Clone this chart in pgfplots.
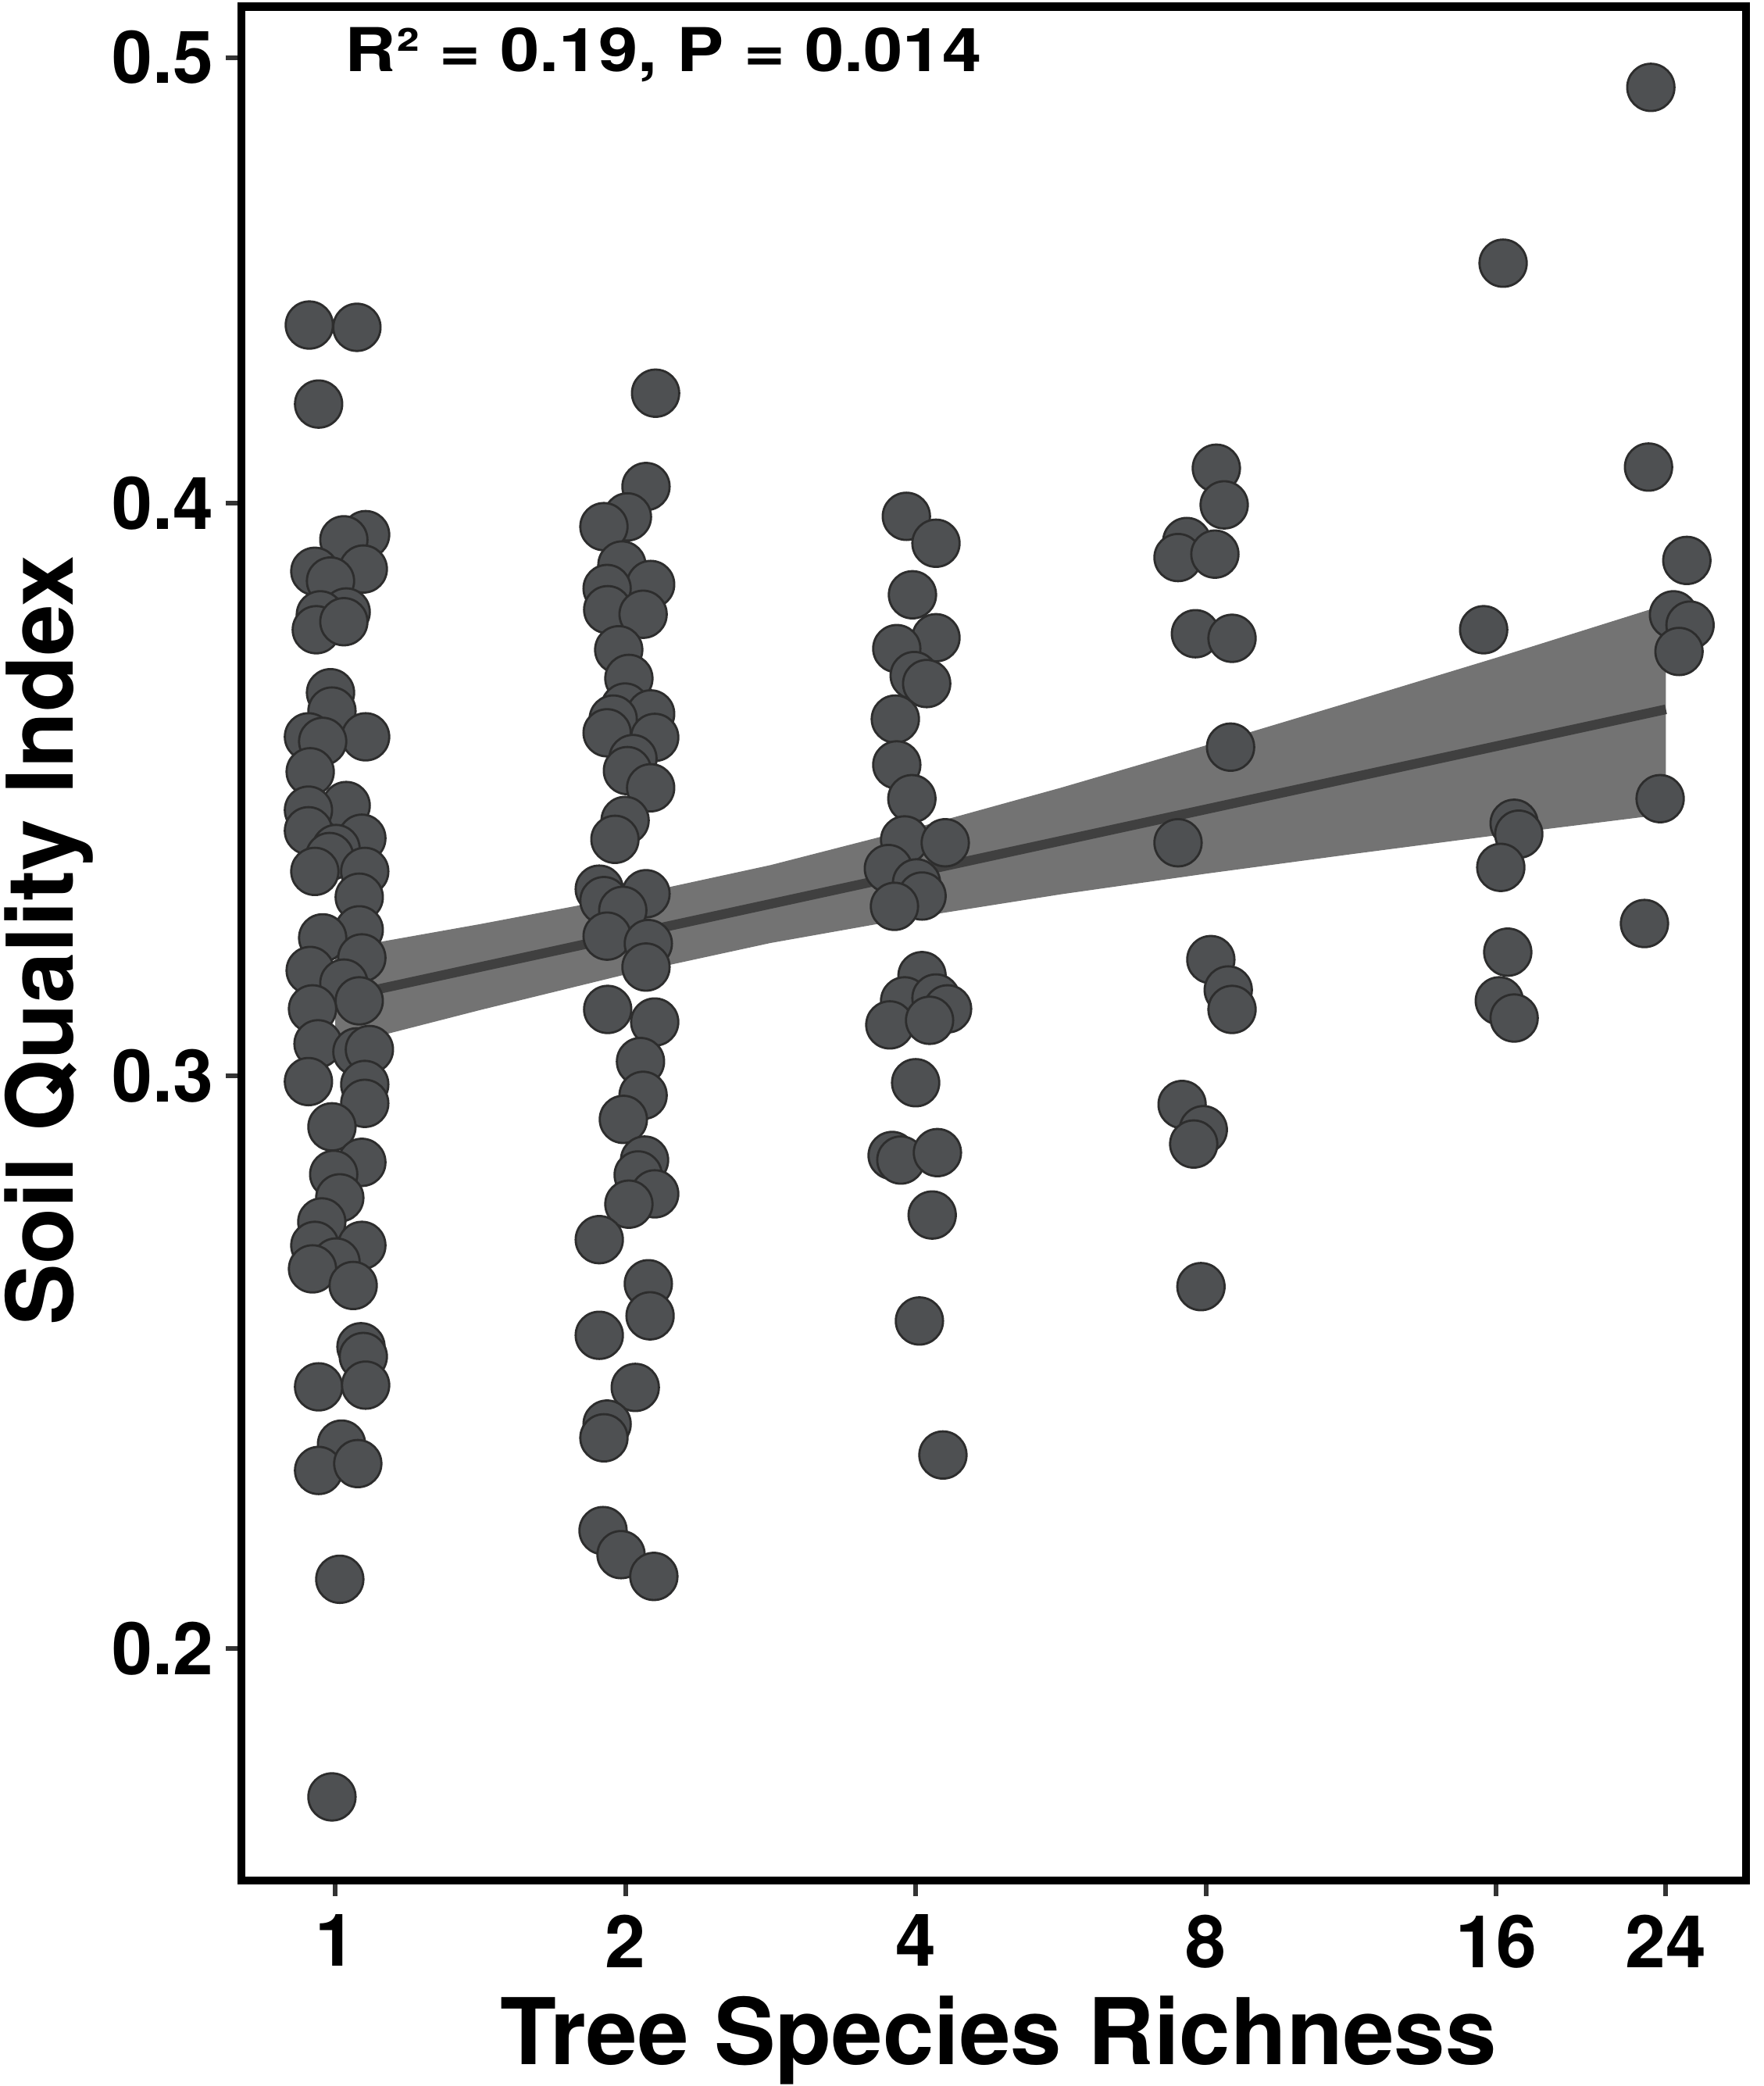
\documentclass[border=0pt]{standalone}
\usepackage{pgfplots}
\pgfplotsset{compat=1.18}
\usepackage{fontspec}
\setmainfont{TeX Gyre Heros}

\definecolor{ptfill}{RGB}{78,80,82}
\definecolor{ptedge}{RGB}{45,45,45}
\definecolor{bandfill}{RGB}{90,90,90}
\definecolor{fitline}{RGB}{64,64,64}

% x is log2(richness); points carry their horizontal jitter
\pgfplotstableread{
x y
-0.089 0.4311
0.075 0.4307
-0.057 0.4173
0.105 0.3945
0.030 0.3936
0.097 0.3885
-0.070 0.3881
-0.016 0.3864
0.038 0.3810
-0.051 0.3805
-0.065 0.3779
0.030 0.3793
-0.016 0.3669
-0.011 0.3637
0.105 0.3592
-0.092 0.3592
-0.043 0.3584
-0.086 0.3531
0.038 0.3472
-0.092 0.3464
-0.092 0.3428
0.092 0.3415
0.003 0.3397
-0.019 0.3383
0.102 0.3357
-0.070 0.3357
0.083 0.3312
0.083 0.3255
-0.043 0.3241
0.092 0.3206
-0.086 0.3184
0.030 0.3162
0.083 0.3131
-0.078 0.3117
-0.059 0.3056
0.075 0.3042
0.118 0.3046
-0.092 0.2990
0.102 0.2985
0.102 0.2952
-0.011 0.2911
0.092 0.2849
-0.005 0.2828
0.016 0.2787
-0.046 0.2745
-0.070 0.2704
0.092 0.2704
0.003 0.2675
-0.078 0.2663
0.062 0.2634
0.089 0.2527
0.097 0.2510
-0.057 0.2457
0.105 0.2460
0.022 0.2357
-0.057 0.2311
0.078 0.2323
0.016 0.2121
-0.011 0.1741
}\richone

\pgfplotstableread{
x y
1.104 0.4192
1.071 0.4029
1.007 0.3976
0.926 0.3959
0.988 0.3892
1.087 0.3858
0.937 0.3851
0.939 0.3814
1.061 0.3806
0.977 0.3744
1.012 0.3694
0.999 0.3644
1.087 0.3632
0.958 0.3623
0.937 0.3599
1.101 0.3591
1.026 0.3554
1.007 0.3533
1.087 0.3503
0.999 0.3446
0.964 0.3413
0.910 0.3326
0.926 0.3306
1.071 0.3318
0.991 0.3289
0.937 0.3244
1.079 0.3231
1.071 0.3190
0.939 0.3116
1.101 0.3094
1.052 0.3025
1.061 0.2966
0.993 0.2924
1.066 0.2853
1.044 0.2827
1.101 0.2794
1.012 0.2776
0.910 0.2714
1.079 0.2637
1.085 0.2581
0.910 0.2547
1.034 0.2456
0.937 0.2392
0.926 0.2368
0.923 0.2206
0.985 0.2164
1.098 0.2126
}\richtwo

\pgfplotstableread{
x y
1.968 0.3977
2.070 0.3930
1.989 0.3840
2.070 0.3765
1.935 0.3746
1.995 0.3699
2.038 0.3685
1.930 0.3623
1.935 0.3543
1.987 0.3484
1.962 0.3412
2.102 0.3407
1.906 0.3362
2.003 0.3337
2.022 0.3314
1.927 0.3296
2.022 0.3175
1.962 0.3131
2.070 0.3136
2.110 0.3117
1.911 0.3089
2.048 0.3097
2.000 0.2988
1.919 0.2861
1.949 0.2853
2.075 0.2866
2.057 0.2757
2.013 0.2572
2.094 0.2338
}\richfour

\pgfplotstableread{
x y
3.036 0.4061
3.063 0.3997
2.934 0.3933
2.904 0.3905
3.031 0.3911
2.964 0.3772
3.090 0.3764
3.085 0.3574
2.904 0.3407
3.017 0.3203
3.077 0.3150
3.090 0.3116
2.918 0.2950
2.991 0.2906
2.958 0.2881
2.983 0.2632
}\richeight

\pgfplotstableread{
x y
4.024 0.4419
3.957 0.3779
4.062 0.3441
4.078 0.3422
4.016 0.3364
4.040 0.3216
4.011 0.3131
4.062 0.3101
}\richsixteen

\pgfplotstableread{
x y
4.533 0.4726
4.525 0.4063
4.657 0.3900
4.611 0.3805
4.668 0.3787
4.630 0.3741
4.565 0.3484
4.511 0.3266
}\richtwentyfour

\begin{document}
\begin{tikzpicture}
\useasboundingbox (-3.09,-2.63) rectangle (19.49,24.07);
\begin{axis}[
  at={(0,0)}, anchor=south west,
  scale only axis, width=19.26cm, height=23.985cm,
  xmin=-0.323, xmax=4.861, ymin=0.1595, ymax=0.4867,
  clip=false,
  axis line style={draw=none},
  xtick={0,1,2,3,4,4.585},
  xticklabels={\textbf{1},\textbf{2},\textbf{4},\textbf{8},\textbf{16},\textbf{24}},
  ytick={0.2,0.3,0.4,0.4778},
  yticklabels={\textbf{0.2},\textbf{0.3},\textbf{0.4},\textbf{0.5}},
  /pgf/number format/assume math mode=true,
  tick align=outside, tick pos=left,
  major tick length=0.2cm,
  tick style={line width=1.7pt, color=black!80},
  ticklabel style={font=\fontsize{26.5}{30}\selectfont\bfseries, text=black},
  yticklabel style={inner sep=0pt, xshift=-0.15cm},
  xticklabel style={inner sep=0pt, yshift=-0.23cm},
  every axis plot/.append style={mark options={solid}},
]
\pgfplotsset{pts/.style={only marks, mark=*, mark size=8.6pt,
  mark options={fill=ptfill, draw=ptedge, line width=0.8pt}}}
\addplot[pts] table {\richone};
\addplot[pts] table {\richtwo};
\addplot[pts] table {\richfour};
\addplot[pts] table {\richeight};
\addplot[pts] table {\richsixteen};
\addplot[pts] table {\richtwentyfour};

% confidence band of the linear fit
\addplot[draw=none, fill=bandfill, fill opacity=0.85] coordinates {
  (0,0.3220) (0.5,0.3265) (1.0,0.3313) (1.5,0.3368) (2.0,0.3433)
  (2.5,0.3503) (3.0,0.3577) (3.5,0.3653) (4.0,0.3730) (4.585,0.3823)
  (4.585,0.3457) (4.0,0.3420) (3.5,0.3387) (3.0,0.3353) (2.5,0.3317)
  (2.0,0.3277) (1.5,0.3232) (1.0,0.3177) (0.5,0.3115) (0,0.3050)
} -- cycle;
% fitted line
\addplot[fitline, line width=3.5pt] coordinates {(0,0.3135) (4.585,0.3640)};
\end{axis}

% frame
\draw[line width=3.1pt, black] (0,0) rectangle (19.26,23.985);

\node[anchor=base west, inner sep=0pt, font=\fontsize{22}{24}\selectfont\bfseries]
  at (1.32,23.155) {\scalebox{1.17}[1]{R² = 0.19, P = 0.014}};
\node[anchor=base, inner sep=0pt, font=\fontsize{33.5}{36}\selectfont\bfseries]
  at (9.69,-2.35) {Tree Species Richness};
\node[rotate=90, anchor=base, inner sep=0pt, font=\fontsize{33.5}{36}\selectfont\bfseries]
  at (-2.15,12.03) {Soil Quality Index};
\end{tikzpicture}
\end{document}
